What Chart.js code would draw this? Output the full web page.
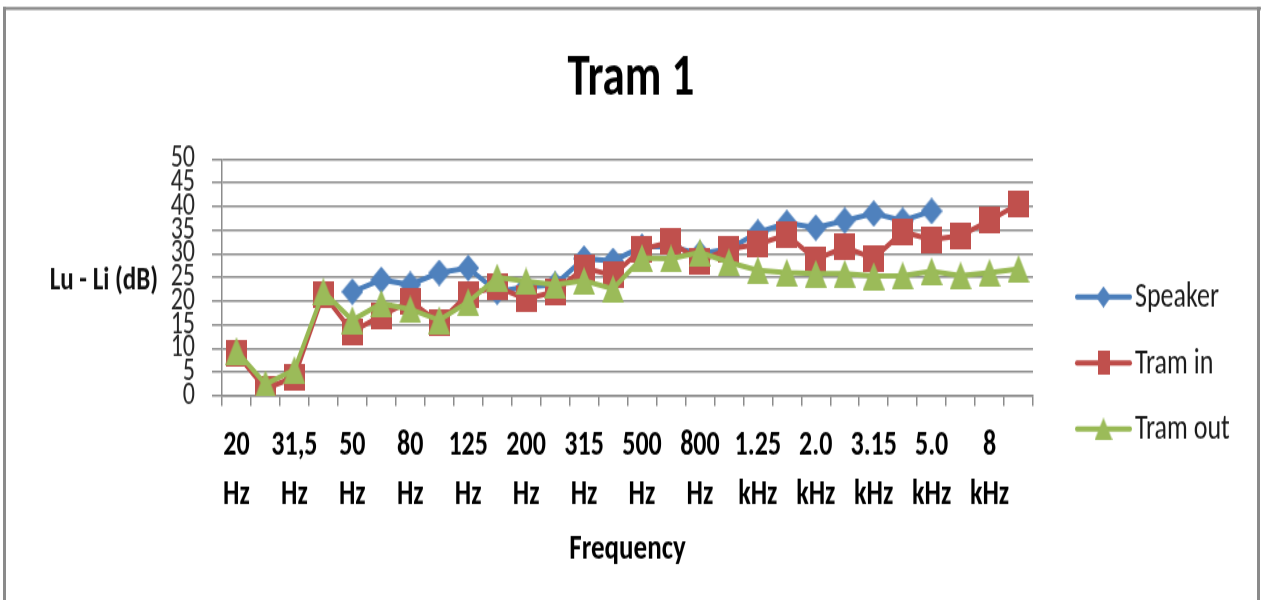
<!DOCTYPE html>
<html><head><meta charset="utf-8">
<script src="https://cdn.jsdelivr.net/npm/chart.js@4.4.1/dist/chart.umd.min.js"></script>
<style>
html,body{margin:0;padding:0;background:#fff;overflow:hidden;}
#wrap{width:1262px;height:450px;position:absolute;left:0;top:0;transform:scaleY(1.3333333);transform-origin:0 0;}
</style>
</head><body><div id="wrap"><canvas id="c" width="1262" height="450"></canvas></div>
<script>
const chartTitle = 'Tram 1';
const xTitle = 'Frequency';
const yTitle = 'Lu - Li (dB)';
const categories = ['20 Hz','25 Hz','31,5 Hz','40 Hz','50 Hz','63 Hz','80 Hz','100 Hz','125 Hz','160 Hz','200 Hz','250 Hz','315 Hz','400 Hz','500 Hz','630 Hz','800 Hz','1000 Hz','1.25 kHz','1.6 kHz','2.0 kHz','2.5 kHz','3.15 kHz','4.0 kHz','5.0 kHz','6.3 kHz','8 kHz','10 kHz'];
const seriesNames = ['Speaker','Tram in','Tram out'];
const speaker = [null,null,null,null,22,24.5,23.5,26,27,22,23,23.5,29,28.5,31.5,31.5,30,31,34.5,36.5,35.5,37,38.5,37,39,null,null,null];
const tramIn  = [9,1.5,4,21.5,13.5,17,20,15.5,21.5,23,20.5,22,27,25.5,31,32.5,28.5,31,32,34,28.8,31.4,29,34.6,33,33.8,37,40.5];
const tramOut = [9.5,2.5,5.5,22,16,19.5,18.3,16,19.8,25,24.2,23.5,24.3,22.6,29.1,29,30.3,28.2,26.5,26,25.8,25.8,25.3,25.4,26.3,25.4,26,26.8];
const yMin = 0, yMax = 50, yStep = 5;

const FONT = 'Carlito, "Roboto Condensed", "Liberation Sans", Arial, sans-serif';
Chart.defaults.font.family = FONT;

function marker(shape, w, h, color) {
  const c = document.createElement('canvas');
  c.width = w; c.height = h;
  const g = c.getContext('2d');
  g.fillStyle = color;
  g.beginPath();
  if (shape === 'diamond') { g.moveTo(w/2,0); g.lineTo(w,h/2); g.lineTo(w/2,h); g.lineTo(0,h/2); }
  else if (shape === 'triangle') { g.moveTo(w/2,0); g.lineTo(w,h); g.lineTo(0,h); }
  else { g.rect(0,0,w,h); }
  g.closePath(); g.fill();
  return c;
}
const lineColors = ['#4A7EBB','#BE4B48','#98B954'];
const fillColors = ['#4F81BD','#C0504D','#9BBB59'];
const shapes = ['diamond','rect','triangle'];
const bigSize = [[22,20],[21,20],[22,21]];
const smallSize = [[15,16],[12,18],[18,17]];
const bigMarkers = shapes.map((s,i)=>marker(s,bigSize[i][0],bigSize[i][1],fillColors[i]));
const smallMarkers = shapes.map((s,i)=>marker(s,smallSize[i][0],smallSize[i][1],fillColors[i]));

const framePlugin = {
  id: 'frame',
  beforeDraw(chart) {
    const ctx = chart.ctx;
    ctx.save();
    ctx.fillStyle = '#fff';
    ctx.fillRect(0,0,chart.width,chart.height);
    ctx.fillStyle = '#8a8a8a';
    ctx.fillRect(3,5.25,1258,2.25);
    ctx.fillRect(3,5.25,3,450);
    ctx.fillRect(1257,5.25,3,450);
    ctx.restore();
  }
};
const extrasPlugin = {
  id: 'extras',
  afterDraw(chart) {
    const ctx = chart.ctx;
    ctx.save();
    ctx.font = 'bold 25px ' + FONT;
    ctx.fillStyle = '#111';
    ctx.textAlign = 'right';
    ctx.textBaseline = 'middle';
    ctx.fillText(yTitle, 158, 210.5);
    const ys = [222.75, 272.25, 321.75];
    chart.data.datasets.forEach((ds, i) => {
      const y = ys[i];
      ctx.strokeStyle = lineColors[i];
      ctx.lineWidth = 4;
      ctx.lineCap = 'round';
      ctx.beginPath(); ctx.moveTo(1077, y); ctx.lineTo(1130, y); ctx.stroke();
      const m = smallMarkers[i];
      ctx.drawImage(m, 1103.5 - m.width/2, y - m.height/2);
      ctx.font = '26px ' + FONT;
      ctx.fillStyle = '#1a1a1a';
      ctx.textAlign = 'left';
      ctx.textBaseline = 'middle';
      ctx.fillText(ds.label, 1135, y + 1);
    });
    ctx.restore();
  }
};

const seriesData = [speaker, tramIn, tramOut];
const datasets = seriesData.map((d, i) => ({
  label: seriesNames[i],
  data: d,
  borderColor: lineColors[i],
  backgroundColor: fillColors[i],
  borderWidth: 4,
  tension: 0,
  pointStyle: bigMarkers[i],
  pointRadius: 11,
  pointHoverRadius: 11,
  order: 3 - i
}));

new Chart(document.getElementById('c'), {
  type: 'line',
  data: { labels: categories, datasets: datasets },
  options: {
    responsive: false,
    animation: false,
    events: [],
    devicePixelRatio: 1,
    layout: { padding: 0 },
    plugins: {
      legend: { display: false },
      tooltip: { enabled: false },
      title: {
        display: true, text: chartTitle, color: '#000',
        font: { size: 45, weight: 'bold', lineHeight: 1.2 },
        padding: { top: 32.25, bottom: 33 }
      }
    },
    scales: {
      x: {
        type: 'category',
        offset: true,
        grid: { display: true, offset: true, drawOnChartArea: false, drawTicks: true, tickLength: 7.5, color: '#8c8c8c', lineWidth: 1.5 },
        border: { display: true, color: '#8c8c8c', width: 1.5 },
        ticks: {
          autoSkip: false, maxRotation: 0, minRotation: 0, padding: 12, color: '#000',
          font: { size: 26, weight: 'bold', lineHeight: 1.4 },
          callback: function(v, idx) { return idx % 2 === 0 ? categories[idx].split(' ') : ''; }
        },
        title: { display: true, text: xTitle, color: '#000', font: { size: 27, weight: 'bold', lineHeight: 1.2 }, padding: { top: 0, bottom: 21.8 } },
        afterFit(s) { s.height = 153; }
      },
      y: {
        min: yMin, max: yMax,
        grid: { color: '#8c8c8c', lineWidth: 1.5, tickLength: 10, drawTicks: true },
        border: { display: true, color: '#8c8c8c', width: 1.5 },
        ticks: { stepSize: yStep, autoSkip: false, padding: 17, color: '#262626', font: { size: 24, lineHeight: 1.0 } },
        afterFit(s) { s.width = 222; }
      },
      legendSpace: {
        type: 'linear', position: 'right', display: true,
        grid: { display: false, drawTicks: false }, border: { display: false },
        ticks: { display: false },
        afterFit(s) { s.width = 229; }
      }
    }
  },
  plugins: [framePlugin, extrasPlugin]
});
</script>
</body></html>
